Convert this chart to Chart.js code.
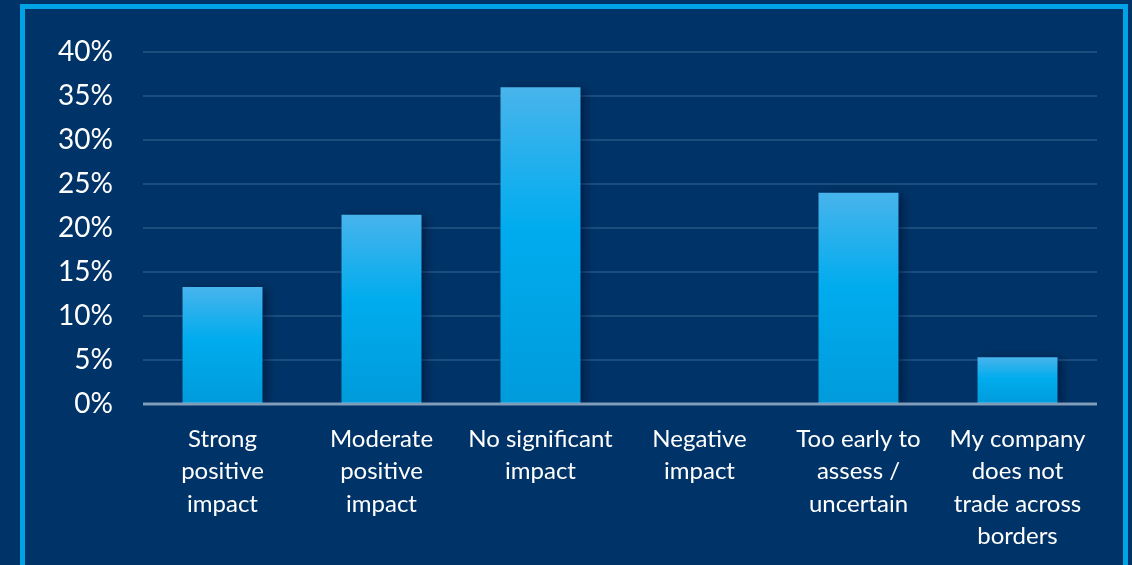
<!DOCTYPE html>
<html><head><meta charset="utf-8">
<script src="https://cdn.jsdelivr.net/npm/chart.js@4.4.1/dist/chart.umd.min.js"></script>
<style>
html,body{margin:0;padding:0;background:#003468;width:1132px;height:565px;overflow:hidden;}
#frame{position:absolute;left:20px;top:4px;width:1098px;height:600px;border:5px solid #00a3e6;box-sizing:content-box;}
#wrap{position:absolute;left:0;top:0;width:1132px;height:565px;}
</style></head>
<body>
<div id="frame"></div>
<div id="wrap"><canvas id="c" width="1132" height="565"></canvas></div>
<script>
const categories = [
  ["Strong","positive","impact"],
  ["Moderate","positive","impact"],
  ["No significant","impact"],
  ["Negative","impact"],
  ["Too early to","assess /","uncertain"],
  ["My company","does not","trade across","borders"]
];
const values = [13.3, 21.5, 36.0, 0, 24.0, 5.3];
const yTicks = [0,5,10,15,20,25,30,35,40];

const shadowPlugin = {
  id:'shadow',
  beforeDatasetDraw(chart){const c=chart.ctx;c.save();c.shadowColor='rgba(0,10,40,0.55)';c.shadowBlur=10;c.shadowOffsetX=5;c.shadowOffsetY=2;},
  afterDatasetDraw(chart){chart.ctx.restore();}
};
const zeroLine = {
  id:'zeroLine',
  afterDatasetsDraw(chart){
    const c=chart.ctx, a=chart.chartArea, y=chart.scales.y.getPixelForValue(0);
    c.save();c.strokeStyle='rgba(200,215,230,0.6)';c.lineWidth=3;
    c.beginPath();c.moveTo(a.left,y);c.lineTo(a.right,y);c.stroke();c.restore();
  }
};

new Chart(document.getElementById('c'),{
  type:'bar',
  data:{labels:categories,datasets:[{data:values,
    backgroundColor(ctx){
      const ch=ctx.chart; if(!ch.chartArea) return '#00aaee';
      const y=ch.scales.y; const v=ctx.raw||0;
      const t=y.getPixelForValue(v), b=y.getPixelForValue(0);
      if(b-t<1) return '#00aaee';
      const g=ch.ctx.createLinearGradient(0,t,0,b);
      g.addColorStop(0,'#48b4ec');g.addColorStop(0.45,'#00acee');g.addColorStop(1,'#009bdb');
      return g;
    },
    borderWidth:0,barPercentage:0.503,categoryPercentage:1}]},
  options:{
    responsive:false,animation:false,
    layout:{padding:{top:52,right:35,left:0,bottom:0}},
    plugins:{legend:{display:false},tooltip:{enabled:false}},
    scales:{
      x:{grid:{display:false,drawTicks:false},border:{display:false},
        ticks:{color:'#ffffff',padding:19,maxRotation:0,autoSkip:false,font:{family:'Lato',size:24,lineHeight:1.35}},
        afterFit(s){s.height=161;}},
      y:{min:0,max:40,grid:{color:'rgba(110,150,195,0.25)',lineWidth:2,drawTicks:false},border:{display:false},
        afterBuildTicks(s){s.ticks=yTicks.map(v=>({value:v}));},
        ticks:{color:'#ffffff',padding:30,font:{family:'Lato',size:28},callback:v=>v+'%'},
        afterFit(s){s.width=143;}}
    }
  },
  plugins:[shadowPlugin,zeroLine]
});
</script>
</body></html>
